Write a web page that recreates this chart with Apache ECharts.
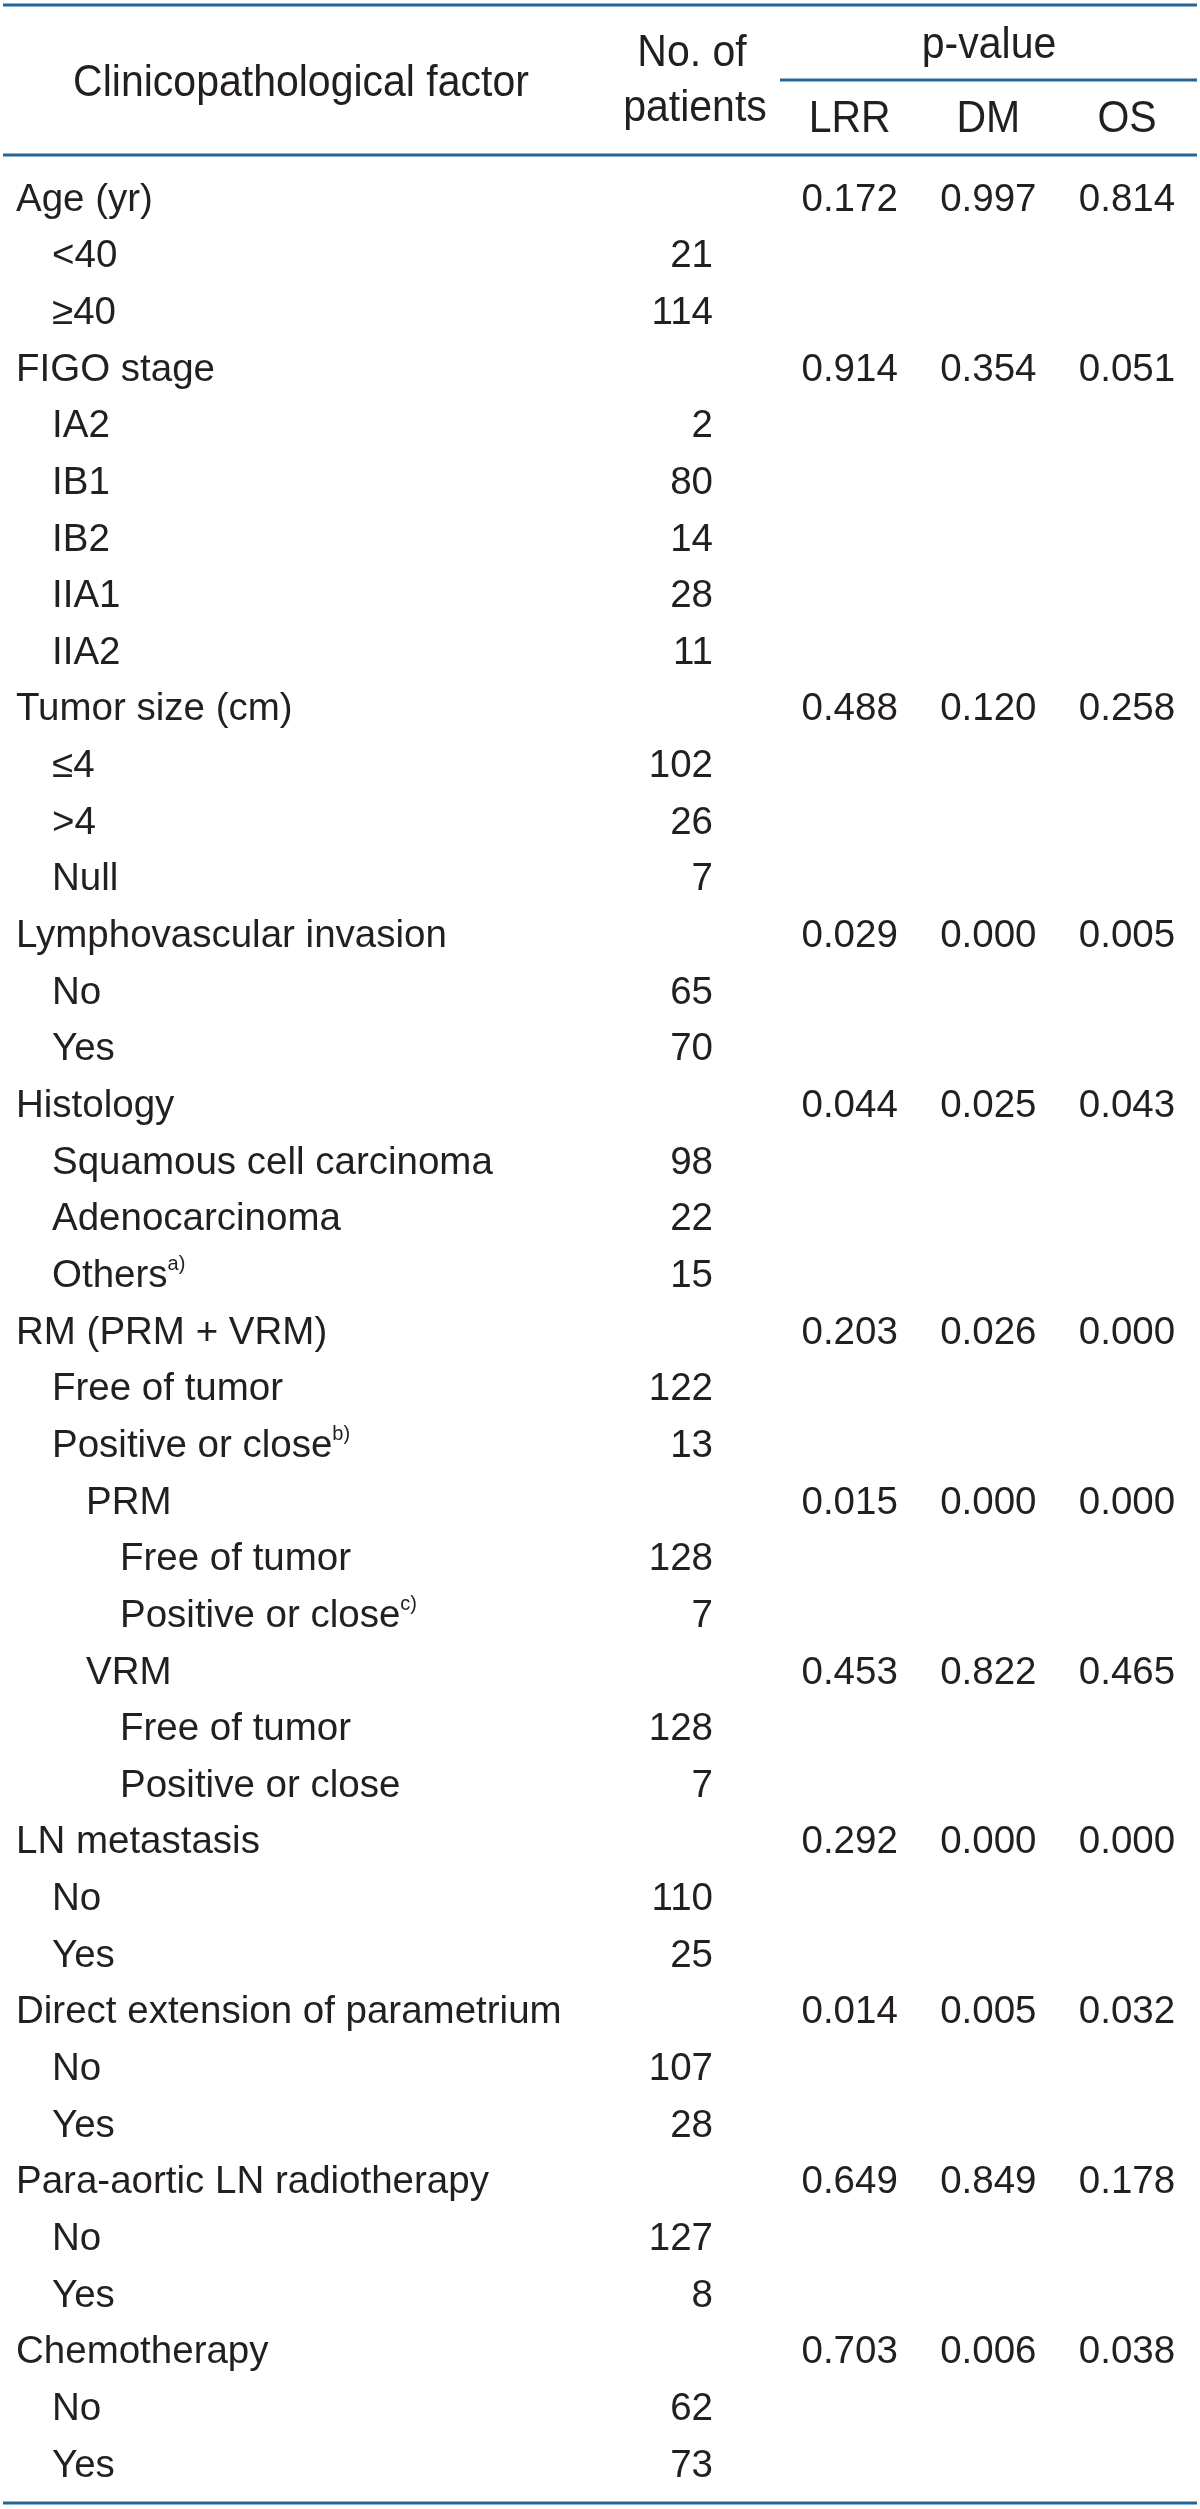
<!DOCTYPE html>
<html>
<head>
<meta charset="utf-8">
<script src="https://cdn.jsdelivr.net/npm/echarts@6/dist/echarts.min.js"></script>
<style>
  html, body { margin: 0; padding: 0; background: #ffffff; }
  #chart { width: 1200px; height: 2509px; }
</style>
</head>
<body>
<div id="chart"></div>
<script>
// ---------- data ----------
const rowLabels = [
  'Age (yr)', '<40', '≥40',
  'FIGO stage', 'IA2', 'IB1', 'IB2', 'IIA1', 'IIA2',
  'Tumor size (cm)', '≤4', '>4', 'Null',
  'Lymphovascular invasion', 'No', 'Yes',
  'Histology', 'Squamous cell carcinoma', 'Adenocarcinoma', 'Others',
  'RM (PRM + VRM)', 'Free of tumor', 'Positive or close',
  'PRM', 'Free of tumor', 'Positive or close',
  'VRM', 'Free of tumor', 'Positive or close',
  'LN metastasis', 'No', 'Yes',
  'Direct extension of parametrium', 'No', 'Yes',
  'Para-aortic LN radiotherapy', 'No', 'Yes',
  'Chemotherapy', 'No', 'Yes'
];
const rowLevels = [
  0, 1, 1,
  0, 1, 1, 1, 1, 1,
  0, 1, 1, 1,
  0, 1, 1,
  0, 1, 1, 1,
  0, 1, 1,
  2, 3, 3,
  2, 3, 3,
  0, 1, 1,
  0, 1, 1,
  0, 1, 1,
  0, 1, 1
];
const rowNotes = {19: 'a)', 22: 'b)', 25: 'c)'};
const patients = [
  null, 21, 114,
  null, 2, 80, 14, 28, 11,
  null, 102, 26, 7,
  null, 65, 70,
  null, 98, 22, 15,
  null, 122, 13,
  null, 128, 7,
  null, 128, 7,
  null, 110, 25,
  null, 107, 28,
  null, 127, 8,
  null, 62, 73
];
const factorRows = [0, 3, 9, 13, 16, 20, 23, 26, 29, 32, 35, 38];
const pLRR = [0.172, 0.914, 0.488, 0.029, 0.044, 0.203, 0.015, 0.453, 0.292, 0.014, 0.649, 0.703];
const pDM  = [0.997, 0.354, 0.120, 0.000, 0.025, 0.026, 0.000, 0.822, 0.000, 0.005, 0.849, 0.006];
const pOS  = [0.814, 0.051, 0.258, 0.005, 0.043, 0.000, 0.000, 0.465, 0.000, 0.032, 0.178, 0.038];
const columns = ['No. of patients', 'LRR', 'DM', 'OS'];
const headFactor = 'Clinicopathological factor';
const headPatients = ['No. of', 'patients'];
const headP = 'p-value';

// ---------- layout / style ----------
const FONT = "'Liberation Sans', Arial, sans-serif";
const TXT = '#231f20';
const RULE = '#23679a';
const W = 1200, H = 2509;
const colW = 138.67;
const gridLeft = 711 - colW / 2;
const gridRight = W - (gridLeft + colW * 4);
const rowH = 56.65;
const gridTop = 200 - rowH / 2;
const gridH = rowH * rowLabels.length;
const gridBottom = H - (gridTop + gridH);
const textLeft = 16;
const BODY = 38.5;
const HEAD = 41;
const HEAD_SY = 1.08;

const countData = [];
patients.forEach((v, i) => { if (v !== null) countData.push([0, i, v]); });
const pData = [];
factorRows.forEach((r, k) => {
  pData.push([1, r, pLRR[k]]);
  pData.push([2, r, pDM[k]]);
  pData.push([3, r, pOS[k]]);
});

const chart = echarts.init(document.getElementById('chart'), null, {renderer: 'canvas'});

const colCenter = i => gridLeft + colW * (i + 0.5);
const headText = (text, x, y) => ({
  type: 'text', x: x, y: y, scaleY: HEAD_SY, silent: true,
  style: {text: text, x: 0, y: 0, align: 'center', verticalAlign: 'middle',
          fontSize: HEAD, fontFamily: FONT, fill: TXT}
});
const rule = (x1, x2, y) => ({
  type: 'line', silent: true,
  shape: {x1: x1, y1: y, x2: x2, y2: y},
  style: {stroke: RULE, lineWidth: 3}
});
const numLabel = (align, offset, fmt) => ({
  show: true, position: 'inside', align: align, offset: offset,
  formatter: fmt, opacity: 1,
  fontSize: BODY, fontFamily: FONT, color: TXT,
  textBorderWidth: 0
});

const option = {
  backgroundColor: '#ffffff',
  animation: false,
  grid: {
    left: gridLeft, right: gridRight, top: gridTop, bottom: gridBottom,
    containLabel: false, outerBoundsMode: 'none'
  },
  xAxis: {
    type: 'category',
    data: columns,
    position: 'top',
    axisLine: {show: false}, axisTick: {show: false},
    axisLabel: {show: false}, splitLine: {show: false}
  },
  yAxis: {
    type: 'category',
    data: rowLabels,
    inverse: true,
    axisLine: {show: false}, axisTick: {show: false}, splitLine: {show: false},
    axisLabel: {
      interval: 0,
      align: 'left',
      margin: gridLeft - textLeft,
      formatter: function (val, idx) {
        const lv = rowLevels[idx];
        let s = lv > 0 ? '{l' + lv + '| }' : '';
        s += '{t|' + val + '}';
        if (rowNotes[idx]) s += '{s|' + rowNotes[idx] + '}';
        return s;
      },
      rich: {
        l1: {width: 36},
        l2: {width: 70},
        l3: {width: 104},
        t: {fontSize: BODY, fontFamily: FONT, color: TXT, lineHeight: 44},
        s: {fontSize: 20, fontFamily: FONT, color: TXT, verticalAlign: 'top', lineHeight: 22}
      }
    }
  },
  series: [
    {
      type: 'scatter',
      name: 'No. of patients',
      data: countData,
      symbolSize: 0,
      silent: true,
      itemStyle: {opacity: 1},
      label: numLabel('right', [2, 0], p => String(p.value[2]))
    },
    {
      type: 'scatter',
      name: 'p-value',
      data: pData,
      symbolSize: 0,
      silent: true,
      itemStyle: {opacity: 1},
      label: numLabel('center', [0, 0], p => p.value[2].toFixed(3))
    }
  ],
  graphic: [
    rule(3, 1197, 5),
    rule(780, 1197, 80),
    rule(3, 1197, 155),
    rule(3, 1197, 2503),
    headText(headFactor, 301, 83.5),
    headText(headPatients[0], 692, 53.5),
    headText(headPatients[1], 695, 108.5),
    headText(headP, 989, 45.5),
    headText(columns[1], colCenter(1), 120),
    headText(columns[2], colCenter(2), 120),
    headText(columns[3], colCenter(3), 120)
  ]
};
chart.setOption(option);
</script>
</body>
</html>
